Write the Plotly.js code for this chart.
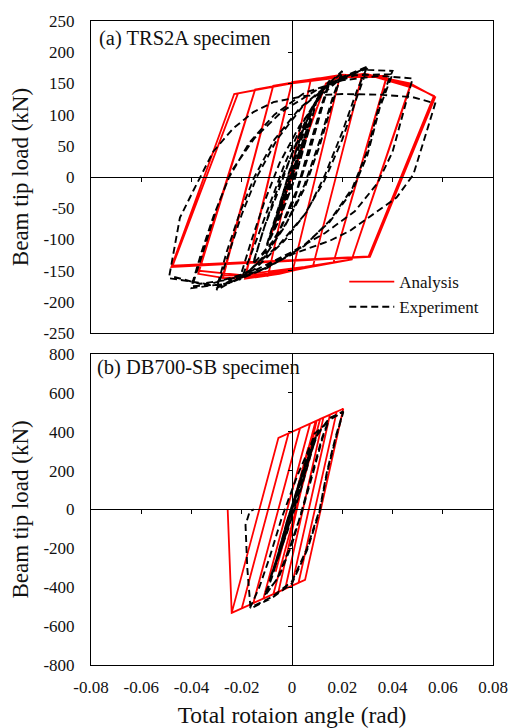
<!DOCTYPE html>
<html><head><meta charset="utf-8">
<script src="https://cdn.plot.ly/plotly-3.0.1.min.js"></script>
<style>html,body{margin:0;padding:0;background:#fff}#chart{width:516px;height:728px}</style>
</head><body><div id="chart"></div>
<script>
// ---- tick labels ----
const xTickVals = [-0.08, -0.06, -0.04, -0.02, 0, 0.02, 0.04, 0.06, 0.08];
const xTickText = ['-0.08', '-0.06', '-0.04', '-0.02', '0', '0.02', '0.04', '0.06', '0.08'];
const xInnerTicks = [-0.06, -0.04, -0.02, 0.02, 0.04, 0.06];
const yTickValsA = [-250, -200, -150, -100, -50, 0, 50, 100, 150, 200, 250];
const yTickTextA = ['-250', '-200', '-150', '-100', '-50', '0', '50', '100', '150', '200', '250'];
const yInnerTicksA = [-200, -150, -100, -50, 50, 100, 150, 200];
const yTickValsB = [-800, -600, -400, -200, 0, 200, 400, 600, 800];
const yTickTextB = ['-800', '-600', '-400', '-200', '0', '200', '400', '600', '800'];
const yInnerTicksB = [-600, -400, -200, 200, 400, 600];
const seriesNames = ['Analysis', 'Experiment'];
const panelLabels = ['(a) TRS2A specimen', '(b) DB700-SB specimen'];

// ---- (a) TRS2A: analysis (rotation rad, load kN) ----
const analysisA = [
 [0,0],[0.006,68],[-0.006,-68],[0.006,68],[-0.006,-68],[0.010,112],[-0.009,-100],[0.010,112],[-0.009,-100],
 [0.0135,150],[0.019,160],[0.0005,-146],[-0.0095,-158],[0.0075,156],[0.019,160],[0.0005,-146],[-0.0095,-158],[0.0075,156],
 [0.028,165],[0.0084,-142],[-0.005,-155],[-0.0187,-163],[0.0,152],[0.028,165],[0.0084,-142],[-0.005,-153],[-0.0187,-160],[0.0,152],
 [0.02,163],[0.0377,162],[0.0165,-137],[-0.01,-158],[-0.0275,-162],[-0.0075,146],[0.02,164],[0.0377,160],[0.0165,-137],[-0.01,-156],[-0.0275,-158],[-0.0075,146],
 [0.01,158],[0.03,165],[0.047,146],[0.0238,-132],[0.005,-146],[-0.025,-163],[-0.0373,-155],[-0.0147,140],[0.01,157],[0.03,164],[0.047,144],[0.0238,-132],[0.005,-144],[-0.02,-157],[-0.0373,-150],[-0.0147,140],
 [0.0,151],[0.02,162],[0.035,160],[0.047,150],[0.057,128],[0.031,-128],[-0.048,-144],[-0.023,133],[0.0,150],[0.02,160],[0.035,160],[0.047,148],[0.0565,130],[0.0305,-127],[-0.0475,-142],[-0.0215,134]
];
// ---- (a) TRS2A: experiment ----
const experimentA = [
 [0,0],[0.003,40],[0.005,62],[0.002,25],[-0.002,-25],[-0.005,-55],[-0.002,-20],[0.002,28],[0.005,62],[0.001,10],[-0.005,-55],
 [-0.001,-5],[0.004,55],[0.0075,95],[0.004,45],[0,-8],[-0.004,-50],[-0.0075,-82],[-0.003,-25],[0.003,40],[0.0075,95],[0.003,35],[-0.0075,-82],
 [-0.004,-40],[0.0,15],[0.005,75],[0.01,125],[0.006,65],[0.001,-5],[-0.005,-65],[-0.01,-108],[-0.005,-45],[0.0,20],[0.005,78],[0.01,126],[0.006,65],[0.0,-15],[-0.005,-68],[-0.01,-110],
 [-0.006,-60],[-0.001,10],[0.005,82],[0.01,125],[0.015,155],[0.012,118],[0.007,50],[0.002,-20],[-0.005,-85],[-0.01,-118],[-0.0155,-138],
 [-0.011,-80],[-0.005,-10],[0.002,55],[0.008,110],[0.015,152],[0.012,112],[0.007,40],[0.001,-35],[-0.006,-95],[-0.0155,-140],
 [-0.011,-80],[-0.005,-18],[0.0,38],[0.006,96],[0.012,140],[0.02,170],[0.016,125],[0.011,58],[0.005,-12],[-0.002,-72],[-0.01,-122],[-0.02,-162],
 [-0.015,-110],[-0.009,-45],[-0.003,20],[0.004,85],[0.012,138],[0.02,168],[0.016,118],[0.011,50],[0.005,-18],[-0.003,-80],[-0.011,-128],[-0.021,-165],
 [-0.016,-100],[-0.011,-40],[-0.005,22],[0.003,82],[0.012,132],[0.02,160],[0.03,177],[0.026,140],[0.02,72],[0.013,2],[0.006,-55],[-0.003,-102],[-0.015,-148],[-0.03,-181],
 [-0.025,-120],[-0.02,-60],[-0.014,0],[-0.006,60],[0.004,112],[0.016,152],[0.03,174],[0.026,130],[0.02,60],[0.013,-5],[0.005,-60],[-0.005,-108],[-0.017,-150],[-0.03,-178],
 [-0.026,-120],[-0.021,-60],[-0.015,0],[-0.007,60],[0.003,110],[0.015,150],[0.028,172],[0.04,170],[0.035,120],[0.03,42],[0.024,-18],[0.015,-70],[0.005,-110],[-0.01,-146],[-0.025,-170],[-0.04,-178],
 [-0.035,-115],[-0.03,-50],[-0.024,10],[-0.015,62],[-0.004,105],[0.01,140],[0.025,163],[0.04,165],[0.035,112],[0.03,35],[0.024,-22],[0.015,-72],[0.004,-112],[-0.012,-148],[-0.027,-172],[-0.04,-175],
 [-0.036,-120],[-0.031,-60],[-0.025,0],[-0.017,55],[-0.007,100],[0.005,135],[0.02,155],[0.035,162],[0.048,158],[0.044,100],[0.04,40],[0.034,-10],[0.025,-55],[0.013,-90],[0.0,-120],[-0.015,-150],[-0.033,-172],[-0.049,-162],
 [-0.0446,-65],[-0.0393,-22],[-0.0366,0],[-0.0313,41],[-0.0234,78],[-0.0154,104],[-0.0074,120],[0.005,130],[0.02,133],[0.035,132],[0.048,128],[0.057,118],
 [0.0536,73],[0.0483,4],[0.0416,-33],[0.0324,-60],[0.0231,-86],[0.0151,-102],[0.0005,-123],[-0.0127,-150],[-0.026,-165],[-0.0366,-171],[-0.047,-160]
];
// ---- (b) DB700-SB: analysis ----
const analysisB = [
 [0,0],[0.004,190],[-0.004,-190],[0.004,190],[-0.004,-190],[0.0065,320],[-0.0065,-320],[0.0065,320],[-0.0065,-320],
 [0.0094,454],[0.0098,456],[-0.0054,-424],[-0.0074,-435],[0.0112,465],[0.0125,472],[-0.0027,-408],[-0.0114,-459],[0.0072,441],
 [0.0151,487],[-0.0001,-393],[-0.0154,-482],[0.0032,418],[0.0178,503],[0.0026,-377],[-0.020,-509],[-0.0014,391],
 [0.0204,518],[0.0052,-362],[-0.024,-532],[-0.0054,368],[0.0204,518],[0.0052,-362],[-0.024,-532],[-0.0256,0]
];
// ---- (b) DB700-SB: experiment ----
const experimentB = [
 [0,0],[0.002,80],[0.0,5],[-0.002,-80],[0.0,0],[0.002,82],[-0.002,-80],
 [0.004,170],[0.001,40],[-0.004,-165],[-0.001,-30],[0.004,172],[-0.004,-168],
 [0.0065,270],[0.002,70],[-0.003,-130],[-0.0065,-270],[-0.002,-60],[0.003,130],[0.0065,272],[0.001,30],[-0.0065,-275],
 [-0.004,-160],[0.0,20],[0.005,220],[0.0095,370],[0.007,270],[0.003,90],[-0.002,-110],[-0.006,-270],[-0.009,-365],
 [-0.006,-250],[-0.002,-60],[0.003,140],[0.0095,372],[0.007,260],[0.003,80],[-0.002,-120],[-0.009,-368],
 [-0.006,-250],[-0.002,-60],[0.003,140],[0.008,330],[0.011,410],[0.0145,455],[0.012,370],[0.008,180],[0.004,0],[0.0,-180],[-0.005,-340],[-0.0105,-440],
 [-0.008,-350],[-0.004,-170],[0.0,20],[0.005,230],[0.009,390],[0.0145,452],[0.012,360],[0.008,170],[0.004,-10],[-0.001,-200],[-0.006,-360],[-0.011,-442],
 [-0.008,-350],[-0.004,-180],[0.0,0],[0.005,200],[0.01,380],[0.015,470],[0.0204,504],[0.0175,380],[0.014,200],[0.011,0],[0.006,-200],[0.0,-370],[-0.008,-450],[-0.0167,-506],
 [-0.013,-400],[-0.009,-250],[-0.004,-40],[0.002,170],[0.008,350],[0.014,455],[0.0204,500],[0.0175,370],[0.014,190],[0.011,-10],[0.006,-210],[0.0,-380],[-0.008,-455],[-0.0165,-510],
 [-0.0178,-300],[-0.0185,-80],[-0.0168,-10],[-0.0152,0]
];

const xs = a => a.map(p => p[0]);
const ys = a => a.map(p => p[1]);
const RED = {color: '#ff0000', width: 1.8};
const BLK = {color: '#000000', width: 1.9, dash: '7px,4px'};

const data = [
  {type: 'scatter', mode: 'lines', name: seriesNames[0], x: xs(analysisA), y: ys(analysisA), xaxis: 'x', yaxis: 'y', line: RED, hoverinfo: 'skip'},
  {type: 'scatter', mode: 'lines', name: seriesNames[1], x: xs(experimentA), y: ys(experimentA), xaxis: 'x3', yaxis: 'y3', line: BLK, hoverinfo: 'skip'},
  {type: 'scatter', mode: 'lines', name: seriesNames[0], x: xs(analysisB), y: ys(analysisB), xaxis: 'x2', yaxis: 'y2', line: RED, showlegend: false, hoverinfo: 'skip'},
  {type: 'scatter', mode: 'lines', name: seriesNames[1], x: xs(experimentB), y: ys(experimentB), xaxis: 'x4', yaxis: 'y4', line: BLK, showlegend: false, hoverinfo: 'skip'}
];

const FONT = 'Liberation Serif, Times New Roman, Times, serif';
const frame = {showline: true, linecolor: '#000', linewidth: 1, mirror: true, ticks: '', showgrid: false, zeroline: false, fixedrange: true};
const inner = {anchor: 'free', showline: true, linecolor: '#000', linewidth: 1, ticks: 'outside', ticklen: 4, tickwidth: 1, tickcolor: '#000',
  tickmode: 'array', showticklabels: false, showgrid: false, zeroline: false, fixedrange: true};
const topDom = [0.5154, 1], botDom = [0, 0.4831];

const layout = {
  width: 516, height: 728,
  margin: {l: 91, r: 23, t: 15, b: 63},
  paper_bgcolor: '#fff', plot_bgcolor: '#fff',
  font: {family: FONT, size: 17, color: '#111'},
  showlegend: true,
  legend: {x: 0.63, y: 0.6225, xanchor: 'left', yanchor: 'top', bgcolor: 'rgba(0,0,0,0)', borderwidth: 0,
           font: {family: FONT, size: 17, color: '#111'}, tracegroupgap: 0, itemwidth: 45},
  xaxis: Object.assign({}, frame, {domain: [0, 1], anchor: 'y', range: [-0.08, 0.08], showticklabels: false}),
  yaxis: Object.assign({}, frame, {domain: topDom, anchor: 'x', range: [-250, 250], tickmode: 'array',
          tickvals: yTickValsA, ticktext: yTickTextA, ticklabelstandoff: 12,
          title: {text: 'Beam tip load (kN)', font: {family: FONT, size: 23}, standoff: 8}, automargin: true}),
  xaxis3: Object.assign({}, inner, {overlaying: 'x', position: (topDom[0] + topDom[1]) / 2, range: [-0.08, 0.08], tickvals: xInnerTicks}),
  yaxis3: Object.assign({}, inner, {overlaying: 'y', position: 0.5, range: [-250, 250], tickvals: yInnerTicksA}),
  xaxis2: Object.assign({}, frame, {domain: [0, 1], anchor: 'y2', range: [-0.08, 0.08], tickmode: 'array',
          tickvals: xTickVals, ticktext: xTickText, ticklabelstandoff: 7,
          title: {text: 'Total rotaion angle (rad)', font: {family: FONT, size: 23.5}}, automargin: false}),
  yaxis2: Object.assign({}, frame, {domain: botDom, anchor: 'x2', range: [-800, 800], tickmode: 'array',
          tickvals: yTickValsB, ticktext: yTickTextB, ticklabelstandoff: 12,
          title: {text: 'Beam tip load (kN)', font: {family: FONT, size: 23}, standoff: 8}, automargin: true}),
  xaxis4: Object.assign({}, inner, {overlaying: 'x2', position: (botDom[0] + botDom[1]) / 2, range: [-0.08, 0.08], tickvals: xInnerTicks}),
  yaxis4: Object.assign({}, inner, {overlaying: 'y2', position: 0.5, range: [-800, 800], tickvals: yInnerTicksB}),
  annotations: [
    {text: panelLabels[0], xref: 'paper', yref: 'paper', x: 0.015, y: 0.9723, xanchor: 'left', yanchor: 'middle', showarrow: false, font: {family: FONT, size: 20.5}},
    {text: panelLabels[1], xref: 'paper', yref: 'paper', x: 0.01, y: 0.4615, xanchor: 'left', yanchor: 'middle', showarrow: false, font: {family: FONT, size: 20.5}}
  ]
};

Plotly.newPlot('chart', data, layout, {displayModeBar: false, staticPlot: true});
</script>
</body></html>
